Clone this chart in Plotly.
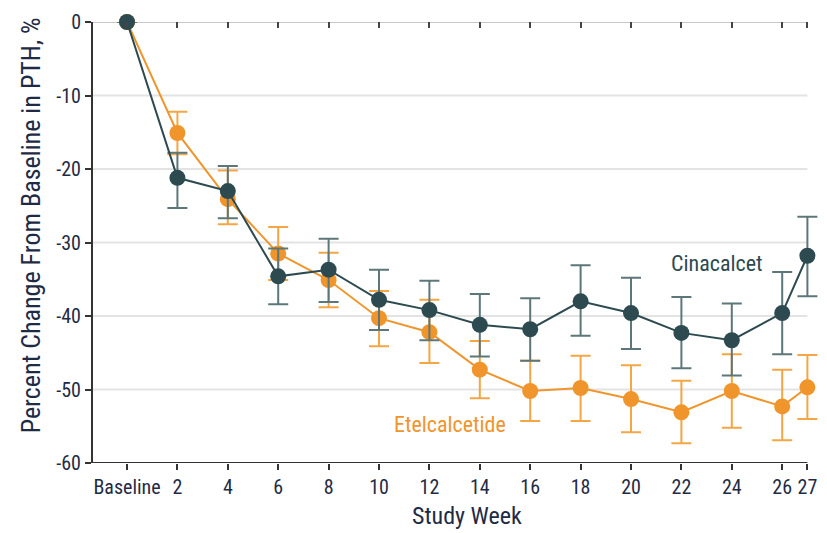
import plotly.graph_objects as go

weeks = [0, 2, 4, 6, 8, 10, 12, 14, 16, 18, 20, 22, 24, 26, 27]
tick_labels = ["Baseline", "2", "4", "6", "8", "10", "12", "14", "16", "18", "20", "22", "24", "26", "27"]
y_ticks = [0, -10, -20, -30, -40, -50, -60]
y_tick_labels = ["0", "-10", "-20", "-30", "-40", "-50", "-60"]

cina_mean = [0, -21.2, -23.0, -34.6, -33.7, -37.8, -39.2, -41.2, -41.8, -38.0, -39.6, -42.3, -43.3, -39.6, -31.8]
cina_upper = [0, -17.8, -19.6, -30.8, -29.5, -33.7, -35.2, -37.0, -37.6, -33.1, -34.8, -37.4, -38.3, -34.0, -26.5]
cina_lower = [0, -25.3, -26.7, -38.4, -38.1, -41.9, -43.3, -45.5, -46.1, -42.7, -44.5, -47.1, -48.1, -45.2, -37.3]

etel_mean = [0, -15.1, -24.1, -31.5, -35.1, -40.3, -42.2, -47.3, -50.2, -49.8, -51.3, -53.1, -50.2, -52.3, -49.7]
etel_upper = [0, -12.2, -20.2, -27.9, -31.4, -36.6, -37.8, -43.4, -46.1, -45.4, -46.7, -48.8, -45.2, -47.3, -45.3]
etel_lower = [0, -18.0, -27.5, -35.1, -38.8, -44.1, -46.4, -51.2, -54.3, -54.3, -55.8, -57.3, -55.2, -56.9, -54.0]

DARK = "#2c4a50"
DARK_ERR = "#5d7779"
ORANGE = "#f0952b"
ORANGE_ERR = "#f4a645"
TEXT = "#1f2b45"
FONT = "Liberation Sans Narrow, Roboto Condensed, Arial Narrow, Roboto, sans-serif"

X_MIN = -1.35
X_END = weeks[-1]          # where the axis lines and gridlines stop
X_MAX = X_END + 0.5        # a little room so the last error-bar caps are not clipped


def err(mean, upper, lower):
    plus = [round(u - m, 2) for u, m in zip(upper, mean)]
    minus = [round(m - l, 2) for m, l in zip(mean, lower)]
    return plus, minus


fig = go.Figure()

# horizontal gridlines and frame lines that stop at the last week
for yv in y_ticks[1:-1]:
    fig.add_shape(type="line", xref="x", yref="y", x0=X_MIN, x1=X_END, y0=yv, y1=yv,
                  line=dict(color="#e3e3e3", width=2), layer="below")
fig.add_shape(type="line", xref="x", yref="y", x0=X_MIN, x1=X_END, y0=0, y1=0,
              line=dict(color="#c8c8c8", width=2), layer="below")
fig.add_shape(type="line", xref="x", yref="y", x0=X_MIN, x1=X_END, y0=-60, y1=-60,
              line=dict(color="#333333", width=2), layer="above")

e_plus, e_minus = err(etel_mean, etel_upper, etel_lower)
c_plus, c_minus = err(cina_mean, cina_upper, cina_lower)

fig.add_trace(go.Scatter(
    x=weeks, y=etel_mean, mode="lines+markers", name="Etelcalcetide",
    line=dict(color=ORANGE, width=2),
    marker=dict(color=ORANGE, size=16),
    error_y=dict(type="data", symmetric=False, array=e_plus, arrayminus=e_minus,
                 color=ORANGE_ERR, thickness=2, width=10),
    cliponaxis=False,
))
fig.add_trace(go.Scatter(
    x=weeks, y=cina_mean, mode="lines+markers", name="Cinacalcet",
    line=dict(color=DARK, width=2),
    marker=dict(color=DARK, size=16),
    error_y=dict(type="data", symmetric=False, array=c_plus, arrayminus=c_minus,
                 color=DARK_ERR, thickness=2, width=10),
    cliponaxis=False,
))
# invisible trace so the top tick axis is drawn
fig.add_trace(go.Scatter(x=[weeks[0]], y=[0], xaxis="x2", mode="markers",
                         marker=dict(opacity=0), showlegend=False, hoverinfo="skip"))

# series labels
fig.add_annotation(x=23.4, y=-32.8, text="Cinacalcet", showarrow=False,
                   font=dict(family=FONT, size=22, color=DARK))
fig.add_annotation(x=12.8, y=-54.7, text="Etelcalcetide", showarrow=False,
                   font=dict(family=FONT, size=22, color=ORANGE))

# axis titles
fig.add_annotation(xref="paper", yref="paper", x=-0.086, y=0.54, textangle=-90,
                   text="Percent Change From Baseline in PTH, %", showarrow=False,
                   xanchor="center", yanchor="middle",
                   font=dict(family=FONT, size=26, color=TEXT))
fig.add_annotation(xref="paper", yref="paper", x=0.515, y=-0.156,
                   text="Study Week", showarrow=False,
                   xanchor="center", yanchor="bottom",
                   font=dict(family=FONT, size=24, color=TEXT))

fig.update_layout(
    width=827, height=533,
    margin=dict(l=93, r=7, t=22, b=70),
    paper_bgcolor="white", plot_bgcolor="white",
    showlegend=False,
    font=dict(family=FONT, size=20, color=TEXT),
    xaxis=dict(
        range=[X_MIN, X_MAX], tickmode="array", tickvals=weeks, ticktext=tick_labels,
        showgrid=False, zeroline=False, showline=False,
        ticks="outside", ticklen=6, tickwidth=2, tickcolor="#333333",
        tickfont=dict(size=20),
    ),
    xaxis2=dict(
        overlaying="x", side="top", matches="x", range=[X_MIN, X_MAX],
        tickmode="array", tickvals=weeks, showticklabels=False,
        showgrid=False, zeroline=False, showline=False,
        ticks="inside", ticklen=6, tickwidth=2, tickcolor="#444444",
    ),
    yaxis=dict(
        range=[-60, 0], tickmode="array", tickvals=y_ticks, ticktext=y_tick_labels,
        showgrid=False, zeroline=False,
        showline=True, linecolor="#333333", linewidth=2,
        ticks="outside", ticklen=6, tickwidth=2, tickcolor="#333333",
        tickfont=dict(size=20),
    ),
)

fig.write_html("out.html")
